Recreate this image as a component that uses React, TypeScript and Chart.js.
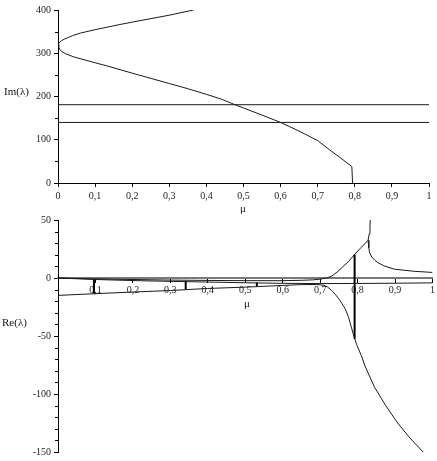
import React, { useEffect, useRef } from 'react';
import { Chart, registerables } from 'chart.js';

Chart.register(...registerables);

// ---------- ticks ----------
const xTickValues = [0, 0.1, 0.2, 0.3, 0.4, 0.5, 0.6, 0.7, 0.8, 0.9, 1];
const xTickLabels = ['0', '0,1', '0,2', '0,3', '0,4', '0,5', '0,6', '0,7', '0,8', '0,9', '1'];
const imYTicks = [0, 100, 200, 300, 400];
const imYLabels = ['0', '100', '200', '300', '400'];
const imYMinor = [50, 150, 250, 350];
const reYTicks = [-150, -100, -50, 0, 50];
const reYLabels = ['-150', '-100', '-50', '0', '50'];
const reYMinor = [-140, -130, -120, -110, -90, -80, -70, -60, -40, -30, -20, -10, 10, 20, 30, 40];

// ---------- top panel: Im(lambda) ----------
const imUpperMu = [0, 0.002, 0.005, 0.01, 0.017, 0.025, 0.04, 0.06, 0.1, 0.167, 0.2, 0.3, 0.365];
const imUpperVal = [319, 323, 326, 329.5, 332.5, 335.5, 341, 346.5, 354.5, 366.5, 372, 388, 400];
const imLowerMu = [0, 0.002, 0.005, 0.01, 0.02, 0.041, 0.07, 0.1, 0.131, 0.2, 0.3, 0.35, 0.4, 0.44, 0.477, 0.5, 0.55, 0.6, 0.65, 0.7, 0.733, 0.76, 0.792, 0.794];
const imLowerVal = [319, 314, 309, 304, 299, 292, 285, 278, 271, 254, 230, 218, 205, 194, 181, 173.5, 157, 140, 120, 98, 76, 59, 38, 0];
const imConstMu = [0, 1];
const imConstHigh = [181, 181];
const imConstLow = [140, 140];

// ---------- bottom panel: Re(lambda) ----------
const reAMu = [0, 0.1, 0.2, 0.3, 0.4, 0.5, 0.6, 0.7, 0.8, 0.9, 1];
const reAVal = [0, -1.3, -2.2, -2.9, -3.5, -4.1, -4.6, -4.8, -4.7, -4.5, -4.2];
const reBMu = [0, 0.1, 0.2, 0.3, 0.4, 0.5, 0.6, 0.65, 0.69, 0.71, 0.72, 0.73, 0.74, 0.75, 0.758, 0.766, 0.775, 0.783, 0.79, 0.797, 0.81, 0.82, 0.845, 0.875, 0.907, 0.94, 0.975, 1];
const reBVal = [-15, -13.5, -12.1, -10.8, -9.0, -7.9, -6.4, -5.7, -5.6, -6.3, -7.8, -10.5, -14, -18, -22, -26, -33, -42, -50, -57, -67, -76, -94, -110, -125, -138, -150, -158];
const reCMu = [0, 0.1, 0.2, 0.3, 0.4, 0.5, 0.6, 0.65, 0.68, 0.7, 0.72, 0.73, 0.745, 0.76, 0.775, 0.792, 0.81, 0.828, 0.831, 0.833, 0.835];
const reCVal = [0, -0.8, -1.3, -1.8, -2.1, -2.3, -2.3, -2.0, -1.6, -1.0, 0.2, 1.5, 5, 9.5, 14, 20.3, 26.5, 32.5, 38, 45, 55];
const reDMu = [0.828, 0.83, 0.832, 0.838, 0.846, 0.854, 0.87, 0.898, 0.95, 1];
const reDVal = [32.5, 26, 21.8, 18, 15.3, 13.3, 10.5, 7.6, 5.8, 4.8];
const reJumpMu = [0.096, 0.341, 0.531, 0.792];
const reJumpTop = [-1.0, -2.4, -3.8, 20.3];
const reJumpBottom = [-13.6, -10.0, -7.5, -52.5];

const pts = (xs: number[], ys: number[]) => xs.map((x, i) => ({ x, y: ys[i] }));

const FONT = '"Liberation Serif", "DejaVu Serif", serif';

const curve = (data: any[]) => ({
  data,
  borderColor: '#1a1a1a',
  borderWidth: 1,
  pointRadius: 0,
  fill: false,
  tension: 0,
});

function overlayPlugin(texts: { text: string; x: number; y: number; align: CanvasTextAlign; size: number }[], minor: number[]) {
  return {
    id: 'overlay',
    afterDraw(chart: any) {
      const ctx = chart.ctx;
      const ys = chart.scales.y;
      ctx.save();
      ctx.strokeStyle = '#000';
      ctx.lineWidth = 1;
      minor.forEach((v) => {
        const py = Math.round(ys.getPixelForValue(v)) + 0.5;
        ctx.beginPath();
        ctx.moveTo(ys.right - 3, py);
        ctx.lineTo(ys.right, py);
        ctx.stroke();
      });
      ctx.fillStyle = '#111';
      ctx.textBaseline = 'middle';
      texts.forEach((t) => {
        ctx.font = `${t.size}px ${FONT}`;
        ctx.textAlign = t.align;
        ctx.fillText(t.text, t.x, t.y);
      });
      ctx.restore();
    },
  };
}

const yAxis = (min: number, max: number, values: number[], labels: string[]) => ({
  type: 'linear',
  min,
  max,
  afterBuildTicks: (s: any) => {
    s.ticks = values.map((v) => ({ value: v }));
  },
  afterFit: (s: any) => {
    s.width = 58;
  },
  ticks: {
    callback: (_v: any, i: number) => labels[i],
    font: { family: FONT, size: 10 },
    color: '#222',
    padding: 3,
  },
  grid: { drawOnChartArea: false, drawTicks: true, tickLength: 4, color: '#000' },
  border: { display: true, color: '#000', width: 1 },
});

export default function App() {
  const topRef = useRef<HTMLCanvasElement>(null);
  const botRef = useRef<HTMLCanvasElement>(null);

  useEffect(() => {
    const top = new Chart(topRef.current as HTMLCanvasElement, {
      type: 'line',
      data: {
        datasets: [
          curve(pts(imUpperMu, imUpperVal)),
          curve(pts(imLowerMu, imLowerVal)),
          curve(pts(imConstMu, imConstHigh)),
          curve(pts(imConstMu, imConstLow)),
        ] as any,
      },
      options: {
        responsive: false,
        animation: false,
        devicePixelRatio: 1,
        layout: { padding: { left: 0, right: 8, top: 10, bottom: 0 } },
        plugins: { legend: { display: false }, tooltip: { enabled: false } },
        scales: {
          x: {
            type: 'linear',
            min: 0,
            max: 1,
            afterBuildTicks: (s: any) => {
              s.ticks = xTickValues.map((v) => ({ value: v }));
            },
            afterFit: (s: any) => {
              s.height = 39;
            },
            ticks: {
              callback: (_v: any, i: number) => xTickLabels[i],
              font: { family: FONT, size: 10 },
              color: '#222',
              padding: 3,
              autoSkip: false,
              maxRotation: 0,
            },
            grid: { drawOnChartArea: false, drawTicks: true, tickLength: 4, color: '#000' },
            border: { display: true, color: '#000', width: 1 },
          },
          y: yAxis(0, 400, imYTicks, imYLabels),
        } as any,
      },
      plugins: [
        overlayPlugin(
          [
            { text: 'Im(λ)', x: 4, y: 92, align: 'left', size: 11 },
            { text: 'μ', x: 243, y: 209, align: 'center', size: 11 },
          ],
          imYMinor
        ),
      ],
    });

    const jumps = reJumpMu.map((m, i) => ({
      ...curve(pts([m, m], [reJumpTop[i], reJumpBottom[i]])),
      borderColor: '#000',
      borderWidth: 2,
    }));

    const bot = new Chart(botRef.current as HTMLCanvasElement, {
      type: 'line',
      data: {
        datasets: [
          curve(pts(reAMu, reAVal)),
          curve(pts(reBMu, reBVal)),
          curve(pts(reCMu, reCVal)),
          curve(pts(reDMu, reDVal)),
          ...jumps,
        ] as any,
      },
      options: {
        responsive: false,
        animation: false,
        devicePixelRatio: 1,
        layout: { padding: { left: 0, right: 2, top: 20, bottom: 5 } },
        plugins: { legend: { display: false }, tooltip: { enabled: false } },
        scales: {
          x: {
            type: 'linear',
            min: 0,
            max: 1,
            position: { y: 0 },
            afterBuildTicks: (s: any) => {
              s.ticks = xTickValues.map((v) => ({ value: v }));
            },
            afterFit: (s: any) => {
              s.height = 0;
            },
            ticks: {
              callback: (_v: any, i: number) => (i === 0 ? '' : xTickLabels[i]),
              font: { family: FONT, size: 10 },
              color: '#222',
              padding: 2,
              autoSkip: false,
              maxRotation: 0,
            },
            grid: { drawOnChartArea: false, drawTicks: true, tickLength: 4, color: '#000' },
            border: { display: true, color: '#7a7a7a', width: 2 },
          },
          y: yAxis(-150, 50, reYTicks, reYLabels),
        } as any,
      },
      plugins: [
        overlayPlugin(
          [
            { text: 'Re(λ)', x: 2, y: 123, align: 'left', size: 11 },
            { text: 'μ', x: 247, y: 104, align: 'center', size: 11 },
          ],
          reYMinor
        ),
      ],
    });

    return () => {
      top.destroy();
      bot.destroy();
    };
  }, []);

  return (
    <div style={{ position: 'absolute', left: 0, top: 0, width: 437, height: 461, background: '#fff' }}>
      <canvas ref={topRef} width={437} height={222} style={{ position: 'absolute', left: 0, top: 0 }} />
      <canvas ref={botRef} width={437} height={261} style={{ position: 'absolute', left: 0, top: 200 }} />
    </div>
  );
}
